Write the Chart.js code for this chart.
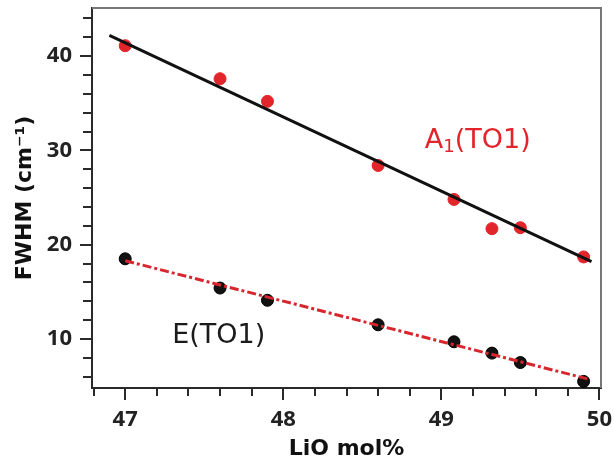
<!DOCTYPE html>
<html>
<head>
<meta charset="utf-8">
<script src="https://cdn.jsdelivr.net/npm/chart.js@4.4.1/dist/chart.umd.min.js"></script>
<style>
  body { margin: 0; background: #fff; }
  #wrap { width: 614px; height: 464px; }
</style>
</head>
<body>
<div id="wrap"><canvas id="fwhm"></canvas></div>
<script>
// LiO content (mol%)
const lioMol = [47.0, 47.6, 47.9, 48.6, 49.08, 49.32, 49.5, 49.9];
// FWHM values (cm-1)
const a1Fwhm = [41.1, 37.6, 35.2, 28.4, 24.8, 21.7, 21.8, 18.7];
const eFwhm = [18.5, 15.4, 14.1, 11.5, 9.7, 8.5, 7.5, 5.5];
// linear fits, end points
const a1FitX = [46.9, 49.95];
const a1FitY = [42.2, 18.2];
const eFitX = [47.0, 49.94];
const eFitY = [18.3, 5.7];
// axis ticks
const xTicks = [46.8, 47, 47.2, 47.4, 47.6, 47.8, 48, 48.2, 48.4, 48.6, 48.8, 49, 49.2, 49.4, 49.6, 49.8, 50];
const yTicks = [6, 8, 10, 12, 14, 16, 18, 20, 22, 24, 26, 28, 30, 32, 34, 36, 38, 40, 42, 44];

const RED = '#e2242b';
const toPts = (xs, ys) => xs.map((x, i) => ({x: x, y: ys[i]}));
const isMajor = (v, step) => Math.abs(v / step - Math.round(v / step)) < 1e-6;

const tickFont = {family: '"Open Sans"', size: 22, weight: 'bold'};
const titleFont = {family: '"DejaVu Sans"', size: 22, weight: 'bold'};

// frame on top/right, tick marks and the two series labels
const decorations = {
    id: 'decorations',
    afterDraw(chart) {
        const {ctx, chartArea: a, scales: {x, y}} = chart;
        ctx.save();
        ctx.strokeStyle = '#777';
        ctx.lineWidth = 2;
        ctx.beginPath();
        ctx.moveTo(a.left, a.top);
        ctx.lineTo(a.right, a.top);
        ctx.lineTo(a.right, a.bottom);
        ctx.stroke();

        ctx.strokeStyle = '#2a2a2a';
        ctx.lineWidth = 2;
        ctx.beginPath();
        xTicks.forEach(v => {
            const px = Math.round(x.getPixelForValue(v));
            ctx.moveTo(px, a.bottom);
            ctx.lineTo(px, a.bottom + (isMajor(v, 1) ? 12 : 8));
        });
        yTicks.forEach(v => {
            const py = Math.round(y.getPixelForValue(v));
            ctx.moveTo(a.left, py);
            ctx.lineTo(a.left - (isMajor(v, 10) ? 12 : 9), py);
        });
        ctx.stroke();

        ctx.textAlign = 'left';
        ctx.textBaseline = 'alphabetic';
        // A1(TO1) with a real subscript
        let tx = x.getPixelForValue(48.895);
        const ty = y.getPixelForValue(30.25);
        ctx.fillStyle = RED;
        ctx.font = '27px "DejaVu Sans"';
        ctx.fillText('A', tx, ty);
        tx += ctx.measureText('A').width;
        ctx.font = '18px "DejaVu Sans"';
        ctx.fillText('1', tx, ty + 4);
        tx += ctx.measureText('1').width;
        ctx.font = '27px "DejaVu Sans"';
        ctx.fillText('(TO1)', tx, ty);

        ctx.fillStyle = '#1a1a1a';
        ctx.fillText('E(TO1)', x.getPixelForValue(47.297), y.getPixelForValue(9.58));
        ctx.restore();
    }
};

new Chart(document.getElementById('fwhm'), {
    type: 'scatter',
    data: {
        datasets: [{
            label: 'A1(TO1)',
            data: toPts(lioMol, a1Fwhm),
            backgroundColor: RED,
            borderColor: RED,
            pointRadius: 6,
            pointBorderWidth: 1,
            order: 4
        }, {
            label: 'E(TO1)',
            data: toPts(lioMol, eFwhm),
            backgroundColor: '#111',
            borderColor: '#000',
            pointRadius: 6,
            pointBorderWidth: 1,
            order: 3
        }, {
            label: 'A1 fit',
            data: toPts(a1FitX, a1FitY),
            showLine: true,
            borderColor: '#111',
            borderWidth: 3,
            pointRadius: 0,
            order: 2
        }, {
            label: 'E fit',
            data: toPts(eFitX, eFitY),
            showLine: true,
            borderColor: '#d8262e',
            borderWidth: 3,
            borderDash: [9, 3, 3, 3],
            pointRadius: 0,
            order: 1
        }]
    },
    options: {
        responsive: true,
        maintainAspectRatio: false,
        animation: false,
        layout: {padding: {left: 0, top: 8, right: 13, bottom: 0}},
        plugins: {
            legend: {display: false},
            tooltip: {enabled: false}
        },
        scales: {
            x: {
                type: 'linear',
                min: 46.79,
                max: 50.01,
                afterBuildTicks: axis => { axis.ticks = xTicks.map(v => ({value: v})); },
                afterFit: axis => {
                    axis.height = 76;
                    axis.paddingLeft = 0;
                    axis.paddingRight = 0;
                },
                grid: {drawOnChartArea: false, drawTicks: false},
                border: {display: true, color: '#2a2a2a', width: 2},
                ticks: {
                    autoSkip: false,
                    maxRotation: 0,
                    padding: 19,
                    color: '#222',
                    font: tickFont,
                    callback: v => isMajor(v, 1) ? String(Math.round(v)) : ''
                },
                title: {
                    display: true,
                    text: 'LiO mol%',
                    color: '#111',
                    font: titleFont,
                    padding: {top: 0, bottom: 2}
                }
            },
            y: {
                type: 'linear',
                min: 4.8,
                max: 45.1,
                afterBuildTicks: axis => { axis.ticks = yTicks.map(v => ({value: v})); },
                afterFit: axis => {
                    axis.width = 92;
                    axis.paddingTop = 0;
                    axis.paddingBottom = 0;
                },
                grid: {drawOnChartArea: false, drawTicks: false},
                border: {display: true, color: '#2a2a2a', width: 2},
                ticks: {
                    autoSkip: false,
                    padding: 20,
                    color: '#222',
                    font: tickFont,
                    callback: v => isMajor(v, 10) ? String(Math.round(v)) : ''
                },
                title: {
                    display: true,
                    text: 'FWHM (cm\u207B\u00B9)',
                    color: '#111',
                    font: titleFont,
                    padding: {top: 12, bottom: 0}
                }
            }
        }
    },
    plugins: [decorations]
});
</script>
</body>
</html>
